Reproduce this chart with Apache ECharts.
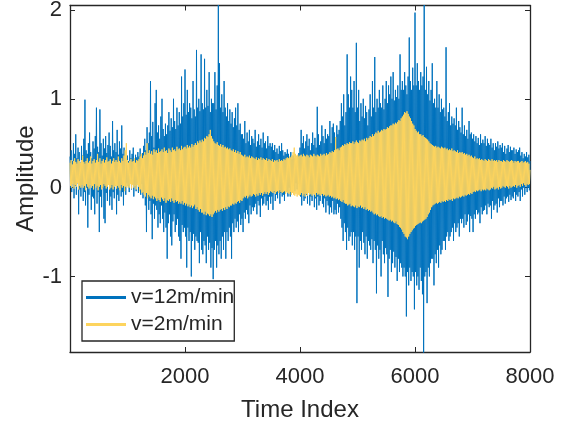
<!DOCTYPE html>
<html>
<head>
<meta charset="utf-8">
<script src="https://cdn.jsdelivr.net/npm/echarts@6/dist/echarts.min.js"></script>
<style>
html,body{margin:0;padding:0;background:#fff;}
#chart{width:566px;height:423px;}
</style>
</head>
<body>
<div id="chart"></div>
<script>
// Sampling step of the time index (values read every 10 samples)
const sampleStep = 10;
const seriesNames = ['v=12m/min', 'v=2m/min'];
const xTicks = [2000, 4000, 6000, 8000];
const yTicks = [-1, 0, 1, 2];
const xRange = [0, 8000];
const yRange = [-1.85, 2.05];

// v=12m/min amplitude (blue), one row per 100 samples
const ampFast = [
  0.35, 0.0, 0.42, -0.05, 0.3, 0.08, 0.5, -0.12, 0.38, 0.02,
  0.6, -0.08, 0.33, 0.05, 0.45, -0.3, 0.4, -0.02, 0.28, -0.1,
  0.47, 0.03, 0.36, -0.15, 0.55, -0.05, 0.99, -0.2, 0.42, 0.0,
  0.38, -0.45, 0.5, -0.08, 0.62, 0.04, 0.4, -0.25, 0.33, -0.1,
  0.52, -0.12, 0.44, -0.3, 0.58, 0.02, 0.9, -0.18, 0.46, -0.05,
  0.4, -0.5, 0.88, -0.1, 0.5, -0.22, 0.36, 0.0, 0.55, -0.35,
  0.44, -0.4, 0.58, -0.06, 0.39, -0.15, 0.48, 0.03, 0.62, -0.2,
  0.47, -0.1, 0.35, -0.25, 0.75, -0.05, 0.42, -0.12, 0.5, 0.02,
  0.4, -0.3, 0.65, -0.08, 0.37, -0.15, 0.52, 0.0, 0.44, -0.1,
  0.7, -0.05, 0.38, -0.2, 0.45, 0.02, 0.33, -0.08, 0.4, 0.05,
  0.36, 0.02, 0.3, -0.05, 0.42, 0.06, 0.33, -0.02, 0.38, 0.04,
  0.45, -0.1, 0.31, 0.03, 0.37, -0.04, 0.34, 0.05, 0.4, -0.06,
  0.35, 0.0, 0.44, -0.08, 0.32, 0.04, 0.39, -0.12, 0.47, -0.05,
  0.55, -0.2, 0.42, -0.5, 0.68, -0.1, 0.5, -0.25, 0.62, -0.15,
  1.2, -0.3, 0.58, -0.58, 0.74, -0.18, 0.45, -0.35, 0.95, -0.2,
  1.1, -0.25, 0.62, -0.45, 0.7, -0.3, 0.55, -0.4, 0.8, -0.2,
  1.0, -0.35, 0.66, -0.5, 0.58, -0.28, 0.72, -0.45, 0.6, -0.8,
  0.7, -0.4, 0.85, -0.3, 0.64, -0.55, 0.78, -0.65, 0.68, -0.38,
  1.0, -0.3, 0.75, -0.5, 0.66, -0.42, 0.9, -0.35, 0.7, -0.55,
  0.85, -0.6, 0.72, -0.8, 1.25, -0.42, 0.8, -0.5, 0.95, -0.45,
  1.33, -0.55, 0.82, -0.9, 1.1, -0.45, 0.85, -0.6, 0.95, -0.5,
  0.9, -1.0, 0.78, -0.6, 1.2, -0.52, 0.88, -0.7, 0.8, -0.55,
  1.55, -0.6, 0.9, -0.62, 1.0, -0.85, 0.86, -0.5, 1.5, -0.7,
  0.95, -0.75, 0.88, -0.6, 1.45, -0.65, 0.9, -0.85, 1.1, -0.55,
  0.92, -0.7, 1.3, -0.62, 0.85, -0.9, 1.0, -0.68, 0.95, -1.03,
  0.95, -0.7, 1.3, -0.6, 0.88, -0.9, 1.15, -0.65, 2.1, -0.75,
  1.4, -0.6, 0.9, -0.8, 1.05, -0.55, 0.85, -0.7, 1.2, -0.5,
  0.9, -0.8, 0.8, -0.5, 0.95, -0.6, 0.75, -0.45, 0.88, -0.55,
  0.72, -0.8, 0.85, -0.4, 0.68, -0.5, 0.78, -0.35, 0.9, -0.45,
  0.7, -0.38, 0.95, -0.5, 0.65, -0.3, 0.72, -0.42, 0.6, -0.35,
  0.6, -0.5, 0.55, -0.28, 0.75, -0.35, 0.5, -0.25, 0.62, -0.3,
  0.52, -0.4, 0.65, -0.2, 0.48, -0.3, 0.58, -0.22, 0.55, -0.26,
  0.5, -0.22, 0.65, -0.18, 0.46, -0.3, 0.52, -0.15, 0.6, -0.2,
  0.48, -0.33, 0.55, -0.12, 0.45, -0.2, 0.62, -0.18, 0.5, -0.1,
  0.52, -0.2, 0.44, -0.15, 0.58, -0.25, 0.47, -0.1, 0.5, -0.18,
  0.46, -0.1, 0.5, -0.25, 0.42, -0.05, 0.48, -0.15, 0.4, -0.08,
  0.44, -0.12, 0.38, -0.02, 0.47, -0.18, 0.41, -0.06, 0.5, -0.1,
  0.42, -0.08, 0.36, -0.15, 0.4, 0.0, 0.38, -0.05, 0.43, -0.1,
  0.38, 0.0, 0.34, -0.1, 0.4, 0.03, 0.32, -0.05, 0.36, 0.02,
  0.33, -0.04, 0.37, 0.05, 0.3, -0.02, 0.35, 0.04, 0.39, -0.06,
  0.45, -0.1, 0.65, -0.2, 0.5, -0.05, 0.58, -0.15, 0.44, -0.12,
  0.52, -0.08, 0.6, -0.18, 0.47, -0.02, 0.55, -0.2, 0.42, -0.1,
  0.5, -0.15, 0.62, -0.05, 0.48, -0.22, 0.56, -0.12, 0.45, -0.25,
  0.91, -0.1, 0.6, -0.2, 0.48, -0.15, 0.52, -0.08, 0.7, -0.18,
  0.58, -0.22, 0.5, -0.12, 0.66, -0.28, 0.55, -0.15, 0.6, -0.2,
  0.58, -0.3, 0.75, -0.22, 0.5, -0.28, 0.68, -0.15, 0.72, -0.3,
  0.62, -0.25, 0.55, -0.3, 0.7, -0.18, 0.6, -0.28, 0.65, -0.22,
  0.75, -0.35, 0.95, -0.45, 0.8, -0.6, 1.05, -0.4, 0.7, -0.5,
  0.85, -0.7, 1.5, -0.45, 1.05, -0.6, 0.9, -0.55, 1.25, -0.5,
  1.1, -0.65, 0.9, -0.5, 1.2, -0.7, 0.85, -0.55, 1.63, -1.3,
  0.9, -0.55, 1.1, -0.9, 0.75, -0.6, 0.95, -0.7, 0.8, -0.5,
  1.0, -0.62, 0.78, -0.75, 0.92, -0.55, 0.85, -0.8, 0.7, -0.6,
  0.88, -0.65, 1.05, -0.7, 0.8, -0.58, 1.2, -0.85, 0.9, -0.6,
  1.47, -0.7, 0.85, -1.19, 1.0, -0.65, 0.9, -0.8, 1.1, -0.7,
  0.95, -1.0, 0.9, -0.6, 1.15, -0.75, 0.88, -0.85, 1.0, -0.68,
  1.2, -0.75, 0.95, -1.23, 1.15, -0.8, 1.05, -0.7, 1.25, -0.95,
  1.0, -0.85, 1.3, -0.72, 0.98, -0.9, 1.1, -0.78, 1.02, -1.05,
  1.15, -0.8, 1.0, -0.95, 1.5, -0.85, 1.1, -0.9, 1.2, -1.0,
  1.1, -0.9, 1.3, -1.0, 1.15, -1.45, 1.05, -0.95, 1.25, -1.1,
  1.69, -0.9, 1.2, -1.05, 1.1, -0.95, 1.35, -1.0, 1.15, -1.37,
  1.97, -0.95, 1.15, -1.1, 1.4, -1.0, 1.2, -1.15, 1.1, -0.9,
  1.3, -1.05, 1.15, -1.2, 1.25, -1.9, 2.1, -1.0, 1.1, -0.95,
  1.36, -1.3, 1.05, -0.9, 1.2, -1.0, 0.98, -0.85, 1.1, -0.8,
  1.4, -0.8, 0.95, -1.1, 1.0, -0.75, 0.9, -0.85, 1.2, -0.7,
  0.9, -0.9, 1.05, -0.65, 0.85, -0.75, 1.0, -0.7, 0.88, -0.6,
  0.9, -0.6, 0.8, -0.7, 1.58, -0.55, 0.75, -0.5, 0.85, -0.6,
  0.95, -0.55, 0.7, -0.5, 0.8, -0.45, 0.72, -0.6, 0.78, -0.4,
  0.7, -0.5, 0.9, -0.45, 0.65, -0.4, 0.75, -0.55, 0.68, -0.35,
  0.62, -0.4, 0.9, -0.35, 0.6, -0.45, 0.7, -0.3, 0.58, -0.42,
  0.65, -0.38, 0.55, -0.3, 0.75, -0.5, 0.6, -0.32, 0.62, -0.35,
  0.55, -0.5, 0.6, -0.3, 0.52, -0.35, 0.58, -0.25, 0.5, -0.3,
  0.56, -0.28, 0.48, -0.4, 0.6, -0.22, 0.5, -0.3, 0.54, -0.26,
  0.5, -0.25, 0.58, -0.2, 0.47, -0.3, 0.55, -0.18, 0.5, -0.22,
  0.48, -0.2, 0.55, -0.35, 0.45, -0.15, 0.5, -0.25, 0.42, -0.2,
  0.5, -0.18, 0.46, -0.28, 0.52, -0.12, 0.44, -0.22, 0.48, -0.15,
  0.45, -0.15, 0.5, -0.2, 0.4, -0.1, 0.47, -0.18, 0.38, -0.12,
  0.44, -0.1, 0.48, -0.16, 0.4, -0.08, 0.46, -0.14, 0.42, -0.1,
  0.42, -0.12, 0.45, -0.05, 0.38, -0.15, 0.43, -0.08, 0.4, -0.1,
  0.42, -0.05, 0.45, -0.15, 0.36, -0.02, 0.4, -0.1, 0.33, 0.0,
  0.38, -0.08, 0.35, 0.02, 0.4, -0.05, 0.34, 0.0, 0.37, -0.03,
  0.3
];

// v=2m/min amplitude (yellow), one row per 100 samples
const ampSlow = [
  0.28, 0.02, 0.31, 0.0, 0.26, 0.04, 0.3, -0.01, 0.33, 0.03,
  0.29, 0.01, 0.27, 0.05, 0.32, -0.02, 0.3, 0.02, 0.28, 0.0,
  0.31, 0.03, 0.36, 0.0, 0.29, 0.02, 0.27, -0.03, 0.3, 0.04,
  0.33, 0.01, 0.28, -0.01, 0.3, 0.03, 0.35, 0.0, 0.27, 0.02,
  0.3, -0.02, 0.32, 0.04, 0.28, 0.0, 0.31, 0.02, 0.38, -0.03,
  0.29, 0.01, 0.33, 0.03, 0.27, -0.02, 0.3, 0.0, 0.32, 0.04,
  0.28, 0.02, 0.31, -0.01, 0.34, 0.01, 0.29, 0.03, 0.3, -0.02,
  0.32, 0.0, 0.27, 0.03, 0.3, -0.02, 0.33, 0.01, 0.29, 0.02,
  0.31, -0.01, 0.29, 0.02, 0.35, 0.0, 0.3, -0.03, 0.28, 0.03,
  0.33, 0.0, 0.3, 0.02, 0.36, -0.04, 0.42, 0.01, 0.5, 0.0,
  0.31, 0.02, 0.28, 0.0, 0.3, 0.04, 0.32, -0.01, 0.29, 0.03,
  0.3, 0.0, 0.33, 0.02, 0.28, -0.02, 0.31, 0.03, 0.3, 0.01,
  0.32, -0.04, 0.35, -0.02, 0.38, -0.06, 0.33, -0.05, 0.36, -0.08,
  0.4, -0.1, 0.37, -0.06, 0.5, -0.12, 0.39, -0.08, 0.42, -0.1,
  0.38, -0.12, 0.41, -0.09, 0.37, -0.13, 0.43, -0.1, 0.4, -0.12,
  0.42, -0.15, 0.39, -0.12, 0.44, -0.14, 0.4, -0.16, 0.41, -0.11,
  0.43, -0.13, 0.4, -0.15, 0.45, -0.12, 0.41, -0.17, 0.42, -0.14,
  0.39, -0.15, 0.44, -0.13, 0.42, -0.16, 0.4, -0.12, 0.45, -0.15,
  0.42, -0.17, 0.43, -0.14, 0.41, -0.16, 0.46, -0.15, 0.43, -0.18,
  0.44, -0.16, 0.42, -0.18, 0.47, -0.15, 0.43, -0.19, 0.45, -0.17,
  0.46, -0.2, 0.44, -0.18, 0.48, -0.21, 0.45, -0.19, 0.47, -0.22,
  0.45, -0.2, 0.49, -0.23, 0.46, -0.21, 0.48, -0.19, 0.5, -0.24,
  0.48, -0.22, 0.52, -0.25, 0.5, -0.27, 0.53, -0.24, 0.51, -0.28,
  0.54, -0.28, 0.52, -0.3, 0.56, -0.27, 0.55, -0.31, 0.58, -0.29,
  0.57, -0.3, 0.6, -0.32, 0.65, -0.3, 0.58, -0.33, 0.55, -0.3,
  0.52, -0.28, 0.5, -0.26, 0.49, -0.28, 0.51, -0.25, 0.48, -0.27,
  0.47, -0.25, 0.49, -0.24, 0.46, -0.26, 0.48, -0.23, 0.45, -0.25,
  0.46, -0.22, 0.44, -0.24, 0.45, -0.21, 0.43, -0.22, 0.44, -0.2,
  0.42, -0.2, 0.41, -0.18, 0.43, -0.19, 0.4, -0.17, 0.42, -0.18,
  0.39, -0.16, 0.41, -0.15, 0.38, -0.17, 0.4, -0.14, 0.37, -0.15,
  0.36, -0.12, 0.35, -0.1, 0.37, -0.11, 0.34, -0.09, 0.35, -0.12,
  0.34, -0.1, 0.36, -0.08, 0.33, -0.1, 0.35, -0.09, 0.34, -0.07,
  0.33, -0.08, 0.32, -0.1, 0.34, -0.07, 0.31, -0.09, 0.33, -0.06,
  0.32, -0.08, 0.34, -0.06, 0.31, -0.09, 0.33, -0.07, 0.32, -0.05,
  0.31, -0.07, 0.33, -0.05, 0.3, -0.08, 0.32, -0.06, 0.31, -0.04,
  0.3, -0.05, 0.32, -0.06, 0.29, -0.04, 0.31, -0.07, 0.3, -0.05,
  0.31, -0.04, 0.29, -0.06, 0.32, -0.03, 0.3, -0.05, 0.31, -0.06,
  0.3, -0.05, 0.32, -0.04, 0.31, -0.07, 0.33, -0.05, 0.34, -0.06,
  0.33, -0.07, 0.35, -0.05, 0.34, -0.08, 0.36, -0.06, 0.4, -0.08,
  0.45, -0.09, 0.38, -0.07, 0.36, -0.1, 0.37, -0.08, 0.35, -0.09,
  0.36, -0.08, 0.37, -0.06, 0.35, -0.09, 0.38, -0.07, 0.36, -0.1,
  0.35, -0.07, 0.37, -0.09, 0.36, -0.06, 0.34, -0.08, 0.37, -0.07,
  0.36, -0.09, 0.35, -0.07, 0.38, -0.08, 0.36, -0.1, 0.35, -0.06,
  0.37, -0.08, 0.36, -0.07, 0.35, -0.09, 0.38, -0.08, 0.36, -0.07,
  0.37, -0.09, 0.38, -0.08, 0.36, -0.1, 0.39, -0.09, 0.37, -0.08,
  0.38, -0.1, 0.4, -0.09, 0.39, -0.11, 0.41, -0.1, 0.4, -0.12,
  0.42, -0.11, 0.57, -0.13, 0.43, -0.12, 0.44, -0.14, 0.42, -0.13,
  0.45, -0.15, 0.46, -0.16, 0.48, -0.14, 0.47, -0.17, 0.49, -0.18,
  0.48, -0.18, 0.5, -0.2, 0.49, -0.19, 0.51, -0.18, 0.5, -0.21,
  0.5, -0.2, 0.52, -0.21, 0.49, -0.22, 0.51, -0.2, 0.53, -0.23,
  0.51, -0.21, 0.5, -0.22, 0.53, -0.2, 0.52, -0.23, 0.54, -0.22,
  0.53, -0.24, 0.55, -0.22, 0.52, -0.25, 0.56, -0.24, 0.54, -0.26,
  0.56, -0.25, 0.58, -0.27, 0.57, -0.26, 0.6, -0.28, 0.58, -0.3,
  0.6, -0.29, 0.62, -0.31, 0.61, -0.3, 0.64, -0.32, 0.62, -0.33,
  0.63, -0.32, 0.65, -0.34, 0.64, -0.33, 0.66, -0.35, 0.65, -0.34,
  0.66, -0.35, 0.68, -0.36, 0.67, -0.37, 0.69, -0.36, 0.7, -0.38,
  0.7, -0.37, 0.72, -0.39, 0.71, -0.4, 0.73, -0.38, 0.72, -0.41,
  0.74, -0.42, 0.76, -0.44, 0.75, -0.45, 0.78, -0.47, 0.8, -0.5,
  0.82, -0.52, 0.85, -0.55, 0.84, -0.56, 0.86, -0.58, 0.83, -0.55,
  0.8, -0.52, 0.78, -0.5, 0.75, -0.48, 0.72, -0.46, 0.7, -0.45,
  0.66, -0.43, 0.64, -0.42, 0.62, -0.41, 0.63, -0.4, 0.6, -0.39,
  0.6, -0.4, 0.58, -0.38, 0.59, -0.37, 0.57, -0.36, 0.56, -0.35,
  0.55, -0.33, 0.54, -0.3, 0.52, -0.28, 0.5, -0.25, 0.49, -0.22,
  0.48, -0.2, 0.47, -0.19, 0.46, -0.18, 0.47, -0.17, 0.45, -0.18,
  0.46, -0.17, 0.45, -0.16, 0.44, -0.17, 0.46, -0.15, 0.45, -0.16,
  0.44, -0.15, 0.45, -0.16, 0.43, -0.14, 0.44, -0.15, 0.42, -0.13,
  0.43, -0.14, 0.42, -0.13, 0.44, -0.15, 0.41, -0.12, 0.42, -0.13,
  0.41, -0.12, 0.4, -0.11, 0.42, -0.12, 0.39, -0.1, 0.4, -0.11,
  0.39, -0.1, 0.4, -0.09, 0.38, -0.1, 0.39, -0.08, 0.37, -0.09,
  0.38, -0.08, 0.36, -0.07, 0.37, -0.08, 0.35, -0.06, 0.36, -0.07,
  0.34, -0.05, 0.33, -0.04, 0.35, -0.05, 0.32, -0.03, 0.33, -0.04,
  0.32, -0.03, 0.33, -0.02, 0.31, -0.04, 0.32, -0.02, 0.31, -0.03,
  0.3, -0.02, 0.32, -0.03, 0.31, -0.01, 0.3, -0.02, 0.32, -0.03,
  0.31, -0.02, 0.3, 0.0, 0.32, -0.01, 0.3, 0.01, 0.31, -0.02,
  0.3, -0.01, 0.31, 0.0, 0.29, -0.02, 0.31, 0.01, 0.3, -0.01,
  0.3, 0.0, 0.29, 0.02, 0.31, 0.01, 0.3, 0.0, 0.29, 0.02,
  0.31, 0.01, 0.3, -0.01, 0.29, 0.02, 0.3, 0.0, 0.31, 0.01,
  0.3, 0.02, 0.28, 0.01, 0.3, 0.03, 0.29, 0.0, 0.3, 0.02,
  0.3, 0.03, 0.28, 0.01, 0.29, 0.04, 0.3, 0.02, 0.28, 0.05,
  0.29, 0.03, 0.3, 0.02, 0.28, 0.04, 0.29, 0.03, 0.27, 0.04,
  0.2
];

const toPairs = arr => arr.map((v, i) => [i * sampleStep, v]);

const axisColor = '#262626';
const fontFamily = '"Liberation Sans", Arial, Helvetica, sans-serif';

const chart = echarts.init(document.getElementById('chart'), null, {renderer: 'canvas'});

const baseX = {
  type: 'value', min: xRange[0], max: xRange[1],
  axisLine: {show: true, onZero: false, lineStyle: {color: axisColor, width: 1.3}},
  axisTick: {show: true, inside: true, length: 5, customValues: xTicks, lineStyle: {color: axisColor, width: 1}},
  splitLine: {show: false}
};
const baseY = {
  type: 'value', min: yRange[0], max: yRange[1],
  axisLine: {show: true, onZero: false, lineStyle: {color: axisColor, width: 1.3}},
  axisTick: {show: true, inside: true, length: 5, customValues: yTicks, lineStyle: {color: axisColor, width: 1}},
  splitLine: {show: false}
};

chart.setOption({
  animation: false,
  backgroundColor: '#ffffff',
  grid: {left: 70, right: 36, top: 5.5, bottom: 71, outerBoundsMode: 'none', containLabel: false},
  legend: {
    show: true,
    left: 82, top: 281,
    orient: 'vertical',
    data: seriesNames,
    icon: 'rect',
    itemWidth: 40, itemHeight: 3,
    itemGap: 2,
    padding: [4, 0, 4, 4],
    borderColor: axisColor, borderWidth: 1.3,
    backgroundColor: '#ffffff',
    selectedMode: false,
    textStyle: {color: axisColor, fontSize: 21, fontFamily: fontFamily, lineHeight: 25}
  },
  xAxis: [
    Object.assign({}, baseX, {
      position: 'bottom',
      name: 'Time Index', nameLocation: 'middle', nameGap: 46, nameMoveOverlap: false,
      nameTextStyle: {color: axisColor, fontSize: 24, fontFamily: fontFamily},
      axisLabel: {show: true, customValues: xTicks, margin: 14, color: axisColor, fontSize: 22, fontFamily: fontFamily,
        formatter: v => String(v)}
    }),
    Object.assign({}, baseX, {position: 'top', axisLabel: {show: false}})
  ],
  yAxis: [
    Object.assign({}, baseY, {
      position: 'left',
      name: 'Amplitude', nameLocation: 'middle', nameGap: 32, nameRotate: 90, nameMoveOverlap: false,
      nameTextStyle: {color: axisColor, fontSize: 24, fontFamily: fontFamily},
      axisLabel: {show: true, customValues: yTicks, margin: 8, color: axisColor, fontSize: 22, fontFamily: fontFamily,
        formatter: v => String(v)}
    }),
    Object.assign({}, baseY, {position: 'right', axisLabel: {show: false}})
  ],
  series: [
    {
      name: seriesNames[0], type: 'line', xAxisIndex: 0, yAxisIndex: 0,
      data: toPairs(ampFast), showSymbol: false, symbol: 'none', clip: true, sampling: null,
      lineStyle: {color: '#0072BD', width: 1}, itemStyle: {color: '#0072BD'}, z: 2
    },
    {
      name: seriesNames[1], type: 'line', xAxisIndex: 0, yAxisIndex: 0,
      data: toPairs(ampSlow), showSymbol: false, symbol: 'none', clip: true, sampling: null,
      lineStyle: {color: '#FDD45E', width: 1}, itemStyle: {color: '#FDD45E'}, z: 3
    }
  ]
});
</script>
</body>
</html>
